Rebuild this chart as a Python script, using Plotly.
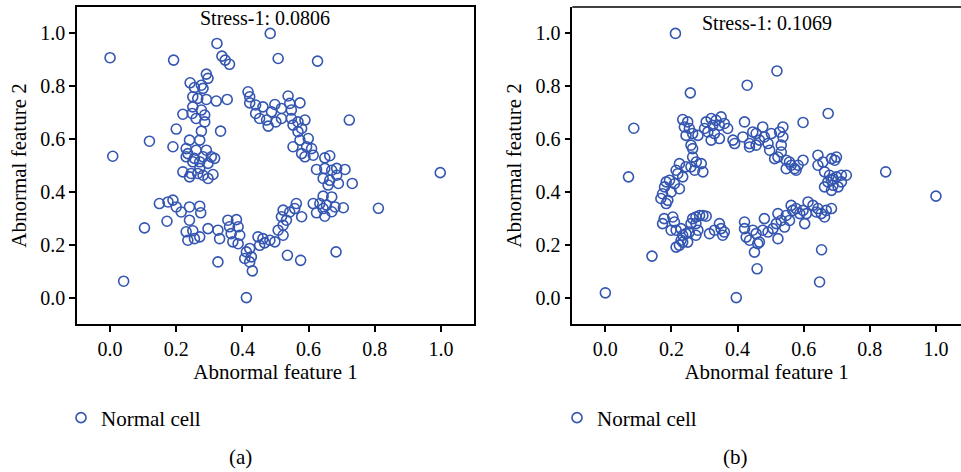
import plotly.graph_objects as go

# ---------------- data: panel (a) ----------------
a_x = [0.291,0.296,0.242,0.276,0.255,0.281,0.250,0.265,0.291,0.321,0.354,0.250,0.276,0.220,0.248,0.286,0.260,0.286,0.200,0.276,0.334,0.119,0.240,0.271,0.190,0.230,0.260,0.291,0.230,0.255,0.281,0.316,0.250,0.271,0.296,0.220,0.245,0.265,0.281,0.311,0.240,0.296,0.235,0.271,0.306,
       0.417,0.422,0.422,0.440,0.462,0.498,0.488,0.440,0.452,0.473,0.478,0.501,0.518,0.538,0.543,0.548,0.574,0.518,0.548,0.553,0.568,0.589,0.579,0.568,0.574,0.599,0.553,0.594,0.609,0.579,0.589,0.614,0.723,
       0.649,0.664,0.624,0.649,0.670,0.685,0.710,0.644,0.664,0.685,0.690,0.659,0.732,
       0.644,0.670,0.614,0.634,0.654,0.680,0.705,0.624,0.649,0.670,0.644,
       0.563,0.558,0.543,0.579,0.523,0.518,0.533,0.523,0.508,0.523,0.498,0.483,0.462,0.447,0.467,0.452,0.422,0.412,0.427,0.407,0.422,0.430,0.536,0.576,0.683,0.326,
       0.149,0.175,0.190,0.200,0.215,0.240,0.271,0.274,0.240,0.172,0.230,0.250,0.235,0.255,0.271,0.296,0.326,0.331,0.356,0.382,0.361,0.387,0.366,0.392,0.371,0.387,
       0.000,0.192,0.323,0.338,0.348,0.361,0.008,0.484,0.508,0.627,0.104,0.041,0.412,0.998,0.811]
a_y = [0.846,0.830,0.813,0.804,0.795,0.792,0.760,0.754,0.750,0.744,0.750,0.722,0.710,0.694,0.697,0.691,0.678,0.665,0.638,0.630,0.630,0.592,0.596,0.596,0.571,0.564,0.558,0.558,0.533,0.527,0.533,0.527,0.514,0.514,0.508,0.476,0.470,0.470,0.463,0.466,0.457,0.451,0.545,0.489,0.533,
       0.779,0.760,0.737,0.729,0.722,0.731,0.703,0.697,0.678,0.672,0.649,0.665,0.678,0.763,0.735,0.710,0.737,0.716,0.678,0.653,0.665,0.672,0.640,0.628,0.596,0.602,0.571,0.571,0.564,0.545,0.533,0.539,0.672,
       0.529,0.537,0.485,0.489,0.482,0.489,0.485,0.451,0.444,0.463,0.432,0.426,0.432,
       0.384,0.381,0.356,0.356,0.350,0.343,0.340,0.321,0.308,0.325,0.337,
       0.356,0.337,0.324,0.306,0.331,0.306,0.293,0.274,0.255,0.236,0.211,0.217,0.223,0.230,0.207,0.198,0.186,0.173,0.154,0.148,0.135,0.101,0.160,0.141,0.173,0.135,
       0.356,0.362,0.369,0.343,0.324,0.343,0.346,0.321,0.293,0.289,0.249,0.253,0.217,0.223,0.230,0.261,0.255,0.223,0.293,0.295,0.268,0.268,0.242,0.236,0.211,0.204,
       0.908,0.899,0.962,0.914,0.899,0.883,0.535,1.000,0.905,0.895,0.264,0.062,0.000,0.473,0.338]

# ---------------- data: panel (b) ----------------
b_x = [0.234,0.249,0.239,0.254,0.244,0.264,0.280,0.305,0.320,0.335,0.350,0.325,0.345,0.360,0.370,0.300,0.310,0.330,0.320,0.345,
       0.259,0.264,0.264,0.275,0.290,0.295,0.270,0.259,0.244,0.224,0.214,0.219,0.234,0.194,0.184,0.179,0.209,0.224,0.199,0.173,0.168,0.189,0.184,
       0.386,0.391,0.416,0.436,0.446,0.456,0.466,0.476,0.481,0.492,0.502,0.497,0.512,0.522,0.527,0.537,0.537,0.532,0.532,0.547,0.557,0.547,0.562,0.572,0.583,0.598,0.577,0.436,0.456,
       0.643,0.658,0.684,0.694,0.699,0.643,0.663,0.678,0.689,0.699,0.714,0.729,0.663,0.684,0.689,0.704,0.714,0.673,0.684,
       0.178,0.173,0.204,0.209,0.199,0.214,0.229,0.234,0.244,0.254,0.259,0.264,0.274,0.285,0.295,0.305,0.274,0.280,0.274,0.249,0.229,0.224,0.214,0.234,0.315,0.330,0.345,0.350,0.360,0.355,
       0.421,0.421,0.426,0.436,0.446,0.456,0.466,0.451,0.461,0.476,0.481,0.492,0.507,0.517,0.522,0.522,0.532,0.542,0.547,0.557,0.562,0.567,0.577,0.588,0.598,0.603,0.613,0.628,0.643,0.653,0.663,0.668,0.684,0.638,0.608,
       0.257,0.674,0.598,0.421,0.212,0.086,0.429,0.519,0.070,0.000,0.396,1.000,0.848,0.654,0.459,0.141,0.648]
b_y = [0.674,0.665,0.646,0.640,0.614,0.621,0.614,0.665,0.678,0.671,0.684,0.652,0.652,0.659,0.640,0.640,0.627,0.621,0.596,0.602,
       0.577,0.564,0.532,0.513,0.507,0.476,0.482,0.495,0.495,0.507,0.482,0.469,0.457,0.444,0.438,0.419,0.431,0.412,0.400,0.393,0.375,0.368,0.356,
       0.596,0.583,0.608,0.570,0.627,0.621,0.596,0.646,0.608,0.583,0.621,0.558,0.526,0.532,0.627,0.646,0.608,0.577,0.551,0.520,0.513,0.488,0.501,0.488,0.501,0.520,0.482,0.583,0.577,
       0.539,0.513,0.526,0.520,0.532,0.501,0.476,0.463,0.450,0.457,0.463,0.463,0.419,0.406,0.425,0.419,0.438,0.438,0.444,
       0.299,0.280,0.305,0.286,0.255,0.255,0.261,0.236,0.242,0.248,0.280,0.299,0.305,0.311,0.311,0.308,0.280,0.255,0.236,0.210,0.217,0.198,0.191,0.210,0.242,0.255,0.280,0.261,0.248,0.236,
       0.286,0.261,0.229,0.217,0.255,0.242,0.210,0.172,0.204,0.255,0.299,0.248,0.261,0.280,0.223,0.318,0.292,0.267,0.311,0.292,0.349,0.330,0.337,0.318,0.330,0.280,0.362,0.349,0.337,0.318,0.305,0.330,0.337,0.324,0.318,
       0.775,0.697,0.663,0.665,1.000,0.641,0.804,0.858,0.457,0.018,0.000,0.384,0.476,0.181,0.109,0.157,0.059]

ticks = [0.0, 0.2, 0.4, 0.6, 0.8, 1.0]
tick_text = ["0.0", "0.2", "0.4", "0.6", "0.8", "1.0"]
series_name = "Normal cell"
stress_labels = ["Stress-1: 0.0806", "Stress-1: 0.1069"]
panel_labels = ["(a)", "(b)"]
x_title = "Abnormal feature 1"
y_title = "Abnormal feature 2"

FONT = "Liberation Serif"
BLUE = "#3456b0"
FS = 20     # tick labels, stress text
FT = 21     # titles, legend, panel labels

marker = dict(symbol="circle-open", size=10, color=BLUE, line=dict(width=1.6, color=BLUE))

fig = go.Figure()
fig.add_trace(go.Scatter(x=a_x, y=a_y, mode="markers", marker=marker, name=series_name,
                         xaxis="x", yaxis="y", legend="legend", cliponaxis=True))
fig.add_trace(go.Scatter(x=b_x, y=b_y, mode="markers", marker=marker, name=series_name,
                         xaxis="x2", yaxis="y2", legend="legend2", cliponaxis=True))

W, H = 961, 472
L, R, T, B = 77, 0, 7, 148
pw = W - L - R
ph = H - T - B

def px_x(p):
    return (p - L) / pw

def px_y(p):
    return (H - B - p) / ph

axis_common = dict(
    tickvals=ticks, ticktext=tick_text, ticks="outside", ticklen=6, tickwidth=1.5,
    tickcolor="black", showline=True, linecolor="black", linewidth=1.5,
    showgrid=False, zeroline=False, automargin=False,
    tickfont=dict(family=FONT, size=FS, color="black"),
)

fig.update_layout(
    width=W, height=H,
    margin=dict(l=L, r=R, t=T, b=B, pad=0, autoexpand=False),
    paper_bgcolor="white", plot_bgcolor="white",
    font=dict(family=FONT, size=FS, color="black"),
    showlegend=True,
    xaxis=dict(domain=[0, px_x(474)], range=[-0.1, 1.1], mirror=True, anchor="y",
               title=dict(text=x_title, font=dict(family=FONT, size=FT), standoff=6), **axis_common),
    yaxis=dict(domain=[0, 1], range=[-0.1, 1.1], mirror=True, anchor="x",
               title=dict(text=y_title, font=dict(family=FONT, size=FT), standoff=8), **axis_common),
    xaxis2=dict(domain=[px_x(572.3), 1], range=[-0.1, (961 - 606) / 330], mirror=False, anchor="y2",
                title=dict(text=x_title, font=dict(family=FONT, size=FT), standoff=6), **axis_common),
    yaxis2=dict(domain=[0, 1], range=[-0.1, 1.1], mirror=False, anchor="x2",
                title=dict(text=y_title, font=dict(family=FONT, size=FT), standoff=8), **axis_common),
    legend=dict(x=px_x(61), y=px_y(418), xanchor="left", yanchor="middle",
                font=dict(family=FONT, size=FT), bgcolor="rgba(0,0,0,0)", borderwidth=0),
    legend2=dict(x=px_x(557), y=px_y(418), xanchor="left", yanchor="middle",
                 font=dict(family=FONT, size=FT), bgcolor="rgba(0,0,0,0)", borderwidth=0),
)

# top border of panel (b) (its right border lies outside the picture)
fig.add_shape(type="line", xref="paper", yref="paper", x0=px_x(572.3), x1=1, y0=1, y1=1,
              line=dict(color="black", width=1.5))

fig.add_annotation(x=0.468, y=1.057, xref="x", yref="y", text=stress_labels[0], showarrow=False,
                   xanchor="center", yanchor="middle", font=dict(family=FONT, size=FS, color="black"))
fig.add_annotation(x=0.489, y=1.041, xref="x2", yref="y2", text=stress_labels[1], showarrow=False,
                   xanchor="center", yanchor="middle", font=dict(family=FONT, size=FS, color="black"))

fig.add_annotation(x=px_x(240), y=px_y(457), xref="paper", yref="paper", text=panel_labels[0],
                   showarrow=False, xanchor="center", yanchor="middle",
                   font=dict(family=FONT, size=FT, color="black"))
fig.add_annotation(x=px_x(735), y=px_y(457), xref="paper", yref="paper", text=panel_labels[1],
                   showarrow=False, xanchor="center", yanchor="middle",
                   font=dict(family=FONT, size=FT, color="black"))

fig.write_html("out.html", config={"displayModeBar": False},
               post_script="document.body.style.margin='0px';document.body.style.padding='0px';")
